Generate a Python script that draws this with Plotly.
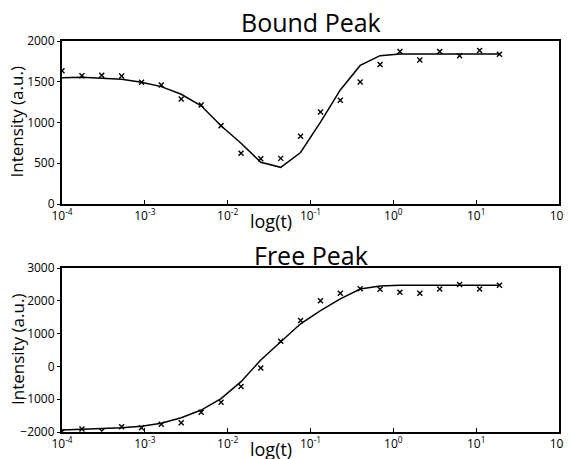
import plotly.graph_objects as go
from plotly.subplots import make_subplots

# time points (s)
t = [1.0e-4, 1.74e-4, 3.02e-4, 5.25e-4, 9.12e-4, 1.58e-3, 2.75e-3, 4.79e-3,
     8.32e-3, 1.45e-2, 2.51e-2, 4.37e-2, 7.59e-2, 0.132, 0.229, 0.398,
     0.692, 1.20, 2.09, 3.63, 6.31, 11.0, 19.1]

bound_data = [1635, 1574, 1579, 1571, 1493, 1460, 1288, 1215, 961, 622, 556, 560,
              831, 1129, 1274, 1498, 1712, 1870, 1768, 1872, 1820, 1884, 1837]
bound_fit = [1550, 1554, 1542, 1530, 1493, 1440, 1346, 1205, 960, 745, 513, 450,
             632, 1005, 1399, 1700, 1820, 1840, 1840, 1840, 1840, 1840, 1840]

free_data = [-1990, -1909, -1970, -1838, -1869, -1765, -1716, -1400, -1095, -610, -50, 770,
             1400, 2003, 2233, 2370, 2350, 2262, 2230, 2360, 2500, 2360, 2472]
free_fit = [-1939, -1920, -1899, -1869, -1828, -1735, -1564, -1330, -980, -466, 195, 760,
            1300, 1700, 2060, 2360, 2451, 2472, 2472, 2472, 2472, 2472, 2472]

x_tickvals = [1e-4, 1e-3, 1e-2, 1e-1, 1e0, 1e1, 1e2]
x_ticktext = ["10<sup>-4</sup>", "10<sup>-3</sup>", "10<sup>-2</sup>", "10<sup>-1</sup>",
              "10<sup>0</sup>", "10<sup>1</sup>", "10<sup>2</sup>"]
titles = ["Bound Peak", "Free Peak"]
ylabel = "Intensity (a.u.)"
xlabel = "log(t)"

FONT = "Open Sans"

fig = make_subplots(rows=2, cols=1, vertical_spacing=0.1641)

for row, (d, f) in enumerate([(bound_data, bound_fit), (free_data, free_fit)], start=1):
    fig.add_trace(go.Scatter(x=t, y=f, mode="lines",
                             line=dict(color="black", width=1.5),
                             showlegend=False), row=row, col=1)
    fig.add_trace(go.Scatter(x=t, y=d, mode="markers",
                             marker=dict(symbol="x-thin", size=5, color="black",
                                         line=dict(color="black", width=1.4)),
                             showlegend=False), row=row, col=1)

for row in (1, 2):
    fig.update_xaxes(type="log", range=[-4, 2], tickvals=x_tickvals, ticktext=x_ticktext,
                     ticks="inside", ticklen=4, tickcolor="black",
                     showline=True, linewidth=2, linecolor="black", mirror=True,
                     showgrid=False, zeroline=False, automargin=False,
                     ticklabeloverflow="allow",
                     tickfont=dict(family=FONT, size=12, color="black"),
                     row=row, col=1)

fig.update_yaxes(range=[0, 2000], tickvals=[0, 500, 1000, 1500, 2000], row=1, col=1)
fig.update_yaxes(range=[-2000, 3000], tickvals=[-2000, -1000, 0, 1000, 2000, 3000], row=2, col=1)
fig.update_yaxes(ticks="outside", ticklen=3, tickcolor="black",
                 showline=True, linewidth=2, linecolor="black", mirror=True,
                 showgrid=False, zeroline=False, automargin=False,
                 tickfont=dict(family=FONT, size=12, color="black"))

# page body adds an 8px offset, so the figure is 8px smaller and shifted
fig.update_layout(
    width=564, height=451,
    margin=dict(l=54, r=13, t=33, b=27),
    paper_bgcolor="white", plot_bgcolor="white",
    font=dict(family=FONT, color="black"),
)
fig.layout.yaxis.domain = [0.5831, 1.0]
fig.layout.yaxis2.domain = [0.0, 0.4194]

anns = []
for i, (xr, yr, tshift) in enumerate([("x domain", "y domain", 0), ("x2 domain", "y2 domain", -5.5)]):
    anns.append(dict(text=titles[i], xref=xr, yref=yr, x=0.5, y=1, xanchor="center",
                     yanchor="bottom", yshift=tshift, showarrow=False,
                     font=dict(family=FONT, size=25, color="black")))
    anns.append(dict(text=ylabel, xref=xr, yref=yr, x=0, y=0.5, xanchor="center",
                     yanchor="middle", xshift=-45, textangle=-90, showarrow=False,
                     font=dict(family=FONT, size=17, color="black")))
    anns.append(dict(text=xlabel, xref=xr, yref=yr, x=0.42, y=0, xanchor="center",
                     yanchor="top", yshift=-3, showarrow=False,
                     font=dict(family=FONT, size=18, color="black")))
fig.update_layout(annotations=anns)

fig.write_html("out.html")
